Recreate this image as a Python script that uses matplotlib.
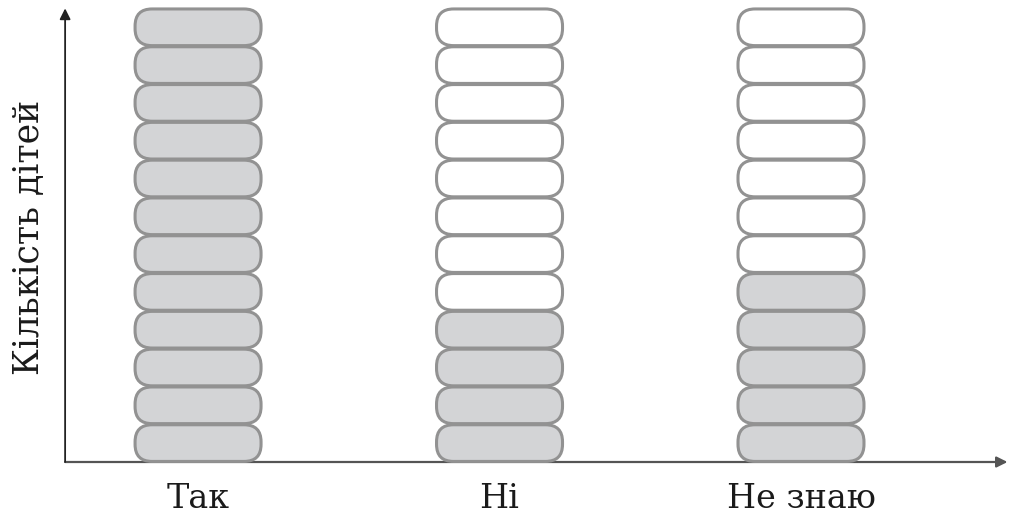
import matplotlib
matplotlib.use("Agg")
import matplotlib.pyplot as plt
from matplotlib.patches import FancyBboxPatch

categories = ['Так', 'Ні', 'Не знаю']
counts = [12, 4, 5]
total_slots = 12
y_label = 'Кількість дітей'

fill_color = '#d3d4d6'
edge_color = '#929292'

fig = plt.figure(figsize=(10.09, 5.17), dpi=100)
ax = fig.add_axes([0, 0, 1, 1])
ax.set_xlim(-0.657, 2.690)
ax.set_ylim(-1.455, 12.222)
ax.axis('off')

px_x = 1 / 301.5
px_y = 1 / 37.8
aspect = px_y / px_x
box_w = 126 * px_x
rad = 17 * px_x

for i, (cat, n) in enumerate(zip(categories, counts)):
    for k in range(total_slots):
        fc = fill_color if k < n else 'white'
        p = FancyBboxPatch((i - box_w / 2, k + 0.015), box_w, 0.97,
                           boxstyle=f"round,pad=0,rounding_size={rad}",
                           mutation_aspect=aspect,
                           fc=fc, ec=edge_color, lw=2.2, zorder=3)
        ax.add_patch(p)
    ax.text(i, -0.98, cat, ha='center', va='center', fontsize=24,
            family='DejaVu Serif', color='#1a1a1a')

# axes arrows
ax.annotate('', xy=(2.685, 0), xytext=(-0.441, 0),
            arrowprops=dict(arrowstyle='-|>', color='#555555', lw=1.6,
                            mutation_scale=16, shrinkA=0, shrinkB=0),
            annotation_clip=False, zorder=2)
ax.annotate('', xy=(-0.441, 12.0), xytext=(-0.441, 0),
            arrowprops=dict(arrowstyle='-|>', color='#222222', lw=1.3,
                            mutation_scale=16, shrinkA=0, shrinkB=0),
            annotation_clip=False, zorder=2)

ax.text(-0.560, 5.95, y_label, rotation=90, ha='center', va='center',
        fontsize=25, family='DejaVu Serif', color='#1a1a1a')

fig.savefig('out.png', dpi=100)
